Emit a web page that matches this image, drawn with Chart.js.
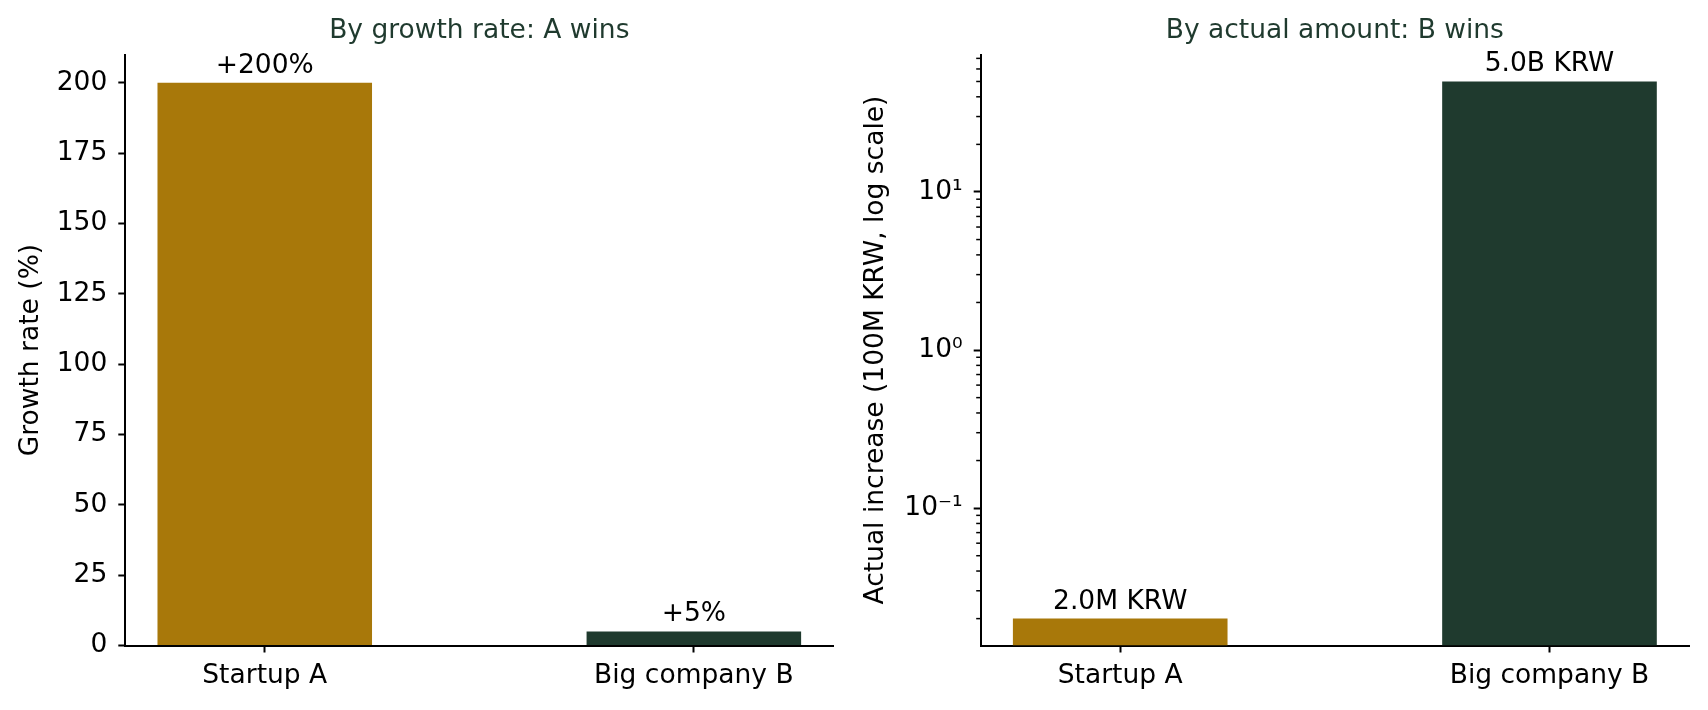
<!DOCTYPE html>
<html lang="en">
<head>
  <meta charset="UTF-8">
  <title>Growth rate vs actual amount</title>
  <script src="https://cdn.jsdelivr.net/npm/chart.js"></script>
  <style>
    body { margin: 0; background: #fff; }
    .panel { position: absolute; top: 0; width: 854px; height: 710px; }
  </style>
</head>
<body>
  <div class="panel" style="left:0"><canvas id="rateChart"></canvas></div>
  <div class="panel" style="left:854px"><canvas id="amountChart"></canvas></div>

  <script>
    // data
    const categories = ['Startup A', 'Big company B'];
    const growthRates = [200, 5];            // %
    const actualIncrease = [0.02, 50];       // 100M KRW
    const rateLabels = ['+200%', '+5%'];
    const amountLabels = ['2.0M KRW', '5.0B KRW'];

    // ticks
    const rateTicks = [0, 25, 50, 75, 100, 125, 150, 175, 200];
    const logMajor = [0.1, 1, 10];
    const logMajorLabels = ['10\u207B\u00B9', '10\u2070', '10\u00B9'];
    const logMinor = [0.02, 0.03, 0.04, 0.05, 0.06, 0.07, 0.08, 0.09,
                      0.2, 0.3, 0.4, 0.5, 0.6, 0.7, 0.8, 0.9,
                      2, 3, 4, 5, 6, 7, 8, 9,
                      20, 30, 40, 50, 60, 70];

    const colors = ['#A8780A', '#1F3A2E'];
    const titleColor = '#1F3A2E';
    const FONT = '"DejaVu Sans", sans-serif';
    const FS = 26.5;

    Chart.defaults.font.family = FONT;
    Chart.defaults.font.size = FS;
    Chart.defaults.color = '#000';

    const barLabels = {
      id: 'barLabels',
      afterDatasetsDraw(chart, args, opts) {
        const ctx = chart.ctx;
        ctx.save();
        ctx.font = FS + 'px ' + FONT;
        ctx.fillStyle = '#000';
        ctx.textAlign = 'center';
        ctx.textBaseline = 'alphabetic';
        chart.getDatasetMeta(0).data.forEach((bar, i) => {
          ctx.fillText(opts.labels[i], bar.x, bar.y - 10);
        });
        ctx.restore();
      }
    };

    const minorTicks = {
      id: 'minorTicks',
      afterDraw(chart, args, opts) {
        if (!opts.values) return;
        const y = chart.scales.y;
        const ctx = chart.ctx;
        ctx.save();
        ctx.strokeStyle = '#000';
        ctx.lineWidth = 1.5;
        opts.values.forEach(v => {
          const py = y.getPixelForValue(v);
          if (py < chart.chartArea.top || py > chart.chartArea.bottom) return;
          ctx.beginPath();
          ctx.moveTo(y.right - 4.5, py);
          ctx.lineTo(y.right, py);
          ctx.stroke();
        });
        ctx.restore();
      }
    };

    function xAxis() {
      return {
        type: 'linear',
        min: -0.325,
        max: 1.325,
        offset: false,
        afterBuildTicks: s => { s.ticks = categories.map((c, i) => ({ value: i })); },
        afterFit: s => { s.height = 64.5; },
        ticks: { callback: v => categories[v], padding: 8, maxRotation: 0, autoSkip: false },
        grid: { offset: false, drawOnChartArea: false, drawTicks: true, tickLength: 7, tickWidth: 2, tickColor: '#000' },
        border: { display: true, color: '#000', width: 2 }
      };
    }

    function makeChart(id, opts) {
      return new Chart(document.getElementById(id), {
        type: 'bar',
        data: {
          datasets: [{
            data: opts.values.map((v, i) => ({ x: i, y: v })),
            backgroundColor: colors,
            borderWidth: 0,
            barPercentage: 0.5,
            categoryPercentage: 1
          }]
        },
        options: {
          responsive: true,
          maintainAspectRatio: false,
          animation: false,
          layout: { padding: { left: 0, right: opts.padRight, top: 0, bottom: 0 } },
          plugins: {
            legend: { display: false },
            tooltip: { enabled: false },
            title: {
              display: true,
              text: opts.title,
              color: titleColor,
              fullSize: false,
              font: { size: FS, weight: 'normal' },
              padding: { top: 15.3, bottom: 7.5 }
            },
            barLabels: { labels: opts.labels },
            minorTicks: { values: opts.minor }
          },
          scales: {
            x: xAxis(),
            y: opts.y
          }
        },
        plugins: [barLabels, minorTicks]
      });
    }

    makeChart('rateChart', {
      values: growthRates,
      labels: rateLabels,
      title: 'By growth rate: A wins',
      padRight: 20.7,
      y: {
        type: 'linear',
        min: 0,
        max: 210,
        afterBuildTicks: s => { s.ticks = rateTicks.map(v => ({ value: v })); },
        afterFit: s => { s.width = 125.3; },
        ticks: { padding: 11 },
        title: { display: true, text: 'Growth rate (%)', padding: { top: 15 }, font: { size: FS } },
        grid: { drawOnChartArea: false, drawTicks: true, tickLength: 7, tickWidth: 2, tickColor: '#000' },
        border: { display: true, color: '#000', width: 2 }
      }
    });

    makeChart('amountChart', {
      values: actualIncrease,
      labels: amountLabels,
      title: 'By actual amount: B wins',
      padRight: 19,
      minor: logMinor,
      y: {
        type: 'logarithmic',
        min: 0.01352,
        max: 73.96,
        afterBuildTicks: s => { s.ticks = logMajor.map(v => ({ value: v })); },
        afterFit: s => { s.width = 126.7; },
        ticks: { padding: 11, callback: (v, i) => logMajorLabels[i] },
        title: { display: true, text: 'Actual increase (100M KRW, log scale)', padding: { top: 6 }, font: { size: FS } },
        grid: { drawOnChartArea: false, drawTicks: true, tickLength: 7, tickWidth: 2, tickColor: '#000' },
        border: { display: true, color: '#000', width: 2 }
      }
    });
  </script>
</body>
</html>
